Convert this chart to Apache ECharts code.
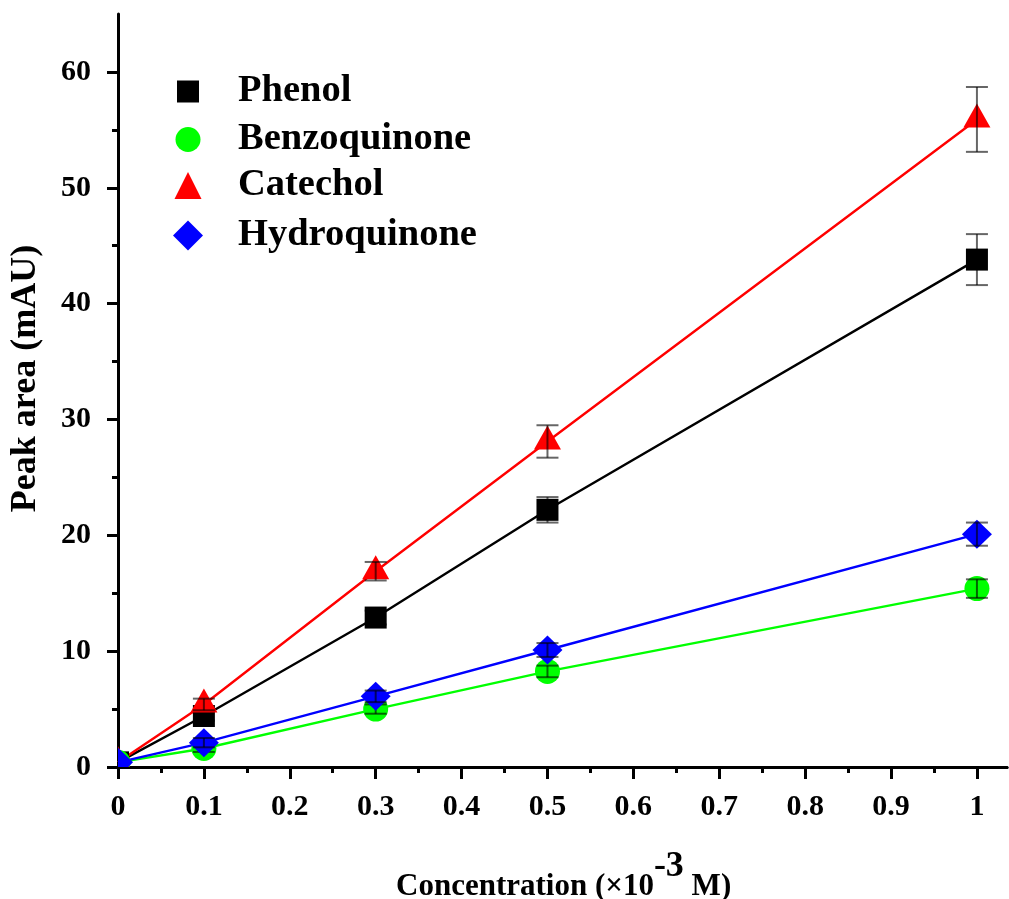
<!DOCTYPE html>
<html>
<head>
<meta charset="utf-8">
<script src="https://cdn.jsdelivr.net/npm/echarts@6/dist/echarts.min.js"></script>
<style>
  html, body { margin: 0; padding: 0; background: #fff; }
  #chart { width: 1009px; height: 899px; }
</style>
</head>
<body>
<div id="chart"></div>
<script>
// Concentration (x10^-3 M)
const concentration = [0, 0.1, 0.3, 0.5, 1.0];

// Peak area (mAU) per compound
const phenol       = [0.4, 4.4, 12.9, 22.2, 43.8];
const benzoquinone = [0.4, 1.6, 5.0, 8.25, 15.4];
const catechol     = [0.4, 5.4, 16.9, 28.1, 55.9];
const hydroquinone = [0.4, 2.1, 6.1, 10.1, 20.1];

// Standard deviations (mAU)
const phenolErr       = [0, 0.4, 0.6, 1.1, 2.2];
const benzoquinoneErr = [0, 0.3, 0.4, 0.5, 0.8];
const catecholErr     = [0, 0.5, 0.8, 1.4, 2.8];
const hydroquinoneErr = [0, 0.4, 0.5, 0.6, 1.0];

// Axis ticks
const xMajorTicks = [0, 0.1, 0.2, 0.3, 0.4, 0.5, 0.6, 0.7, 0.8, 0.9, 1.0];
const xMinorTicks = [0.05, 0.15, 0.25, 0.35, 0.45, 0.55, 0.65, 0.75, 0.85, 0.95];
const yMajorTicks = [0, 10, 20, 30, 40, 50, 60];
const yMinorTicks = [5, 15, 25, 35, 45, 55];

const FONT = '"Liberation Serif", "Times New Roman", serif';
const X_MAX = 1.035;
const Y_MAX = 65;

const compounds = [
  { name: 'Phenol',       values: phenol,       errors: phenolErr,       color: '#000000', shape: 'square',   icon: 'rect',     iconSize: 22 },
  { name: 'Benzoquinone', values: benzoquinone, errors: benzoquinoneErr, color: '#00ff00', shape: 'circle',   icon: 'circle',   iconSize: 25 },
  { name: 'Catechol',     values: catechol,     errors: catecholErr,     color: '#ff0000', shape: 'triangle', icon: 'triangle', iconSize: 27 },
  { name: 'Hydroquinone', values: hydroquinone, errors: hydroquinoneErr, color: '#0000ff', shape: 'diamond',  icon: 'diamond',  iconSize: 30 }
];
const legendCenters = [87, 135, 181, 231];
const legendIconX = 188;   // icon centre
const legendTextX = 238;   // start of legend text

function markerShape(shape, px, py, color) {
  const style = { fill: color, stroke: null };
  switch (shape) {
    case 'square':
      return { type: 'rect', shape: { x: px - 11, y: py - 11, width: 22, height: 22 }, style };
    case 'circle':
      return { type: 'circle', shape: { cx: px, cy: py, r: 12.5 }, style };
    case 'triangle':
      return { type: 'polygon', shape: { points: [[px, py - 16], [px - 13.5, py + 8], [px + 13.5, py + 8]] }, style };
    default:
      return { type: 'polygon', shape: { points: [[px, py - 14.5], [px + 15, py], [px, py + 14.5], [px - 15, py]] }, style };
  }
}

const lineSeries = compounds.map(c => ({
  type: 'line',
  name: c.name + ' line',
  xAxisIndex: 0,
  yAxisIndex: 0,
  data: concentration.map((x, i) => [x, c.values[i]]),
  showSymbol: false,
  symbol: 'none',
  silent: true,
  clip: true,
  lineStyle: { color: c.color, width: 2.4 },
  z: 2
}));

const markerSeries = compounds.map(c => ({
  type: 'custom',
  name: c.name,
  coordinateSystem: 'cartesian2d',
  xAxisIndex: 0,
  yAxisIndex: 0,
  clip: true,
  silent: true,
  itemStyle: { color: c.color },
  encode: { x: 0, y: 1 },
  data: concentration.map((x, i) => [x, c.values[i], c.errors[i]]),
  renderItem: function (params, api) {
    const x = api.value(0), y = api.value(1), e = api.value(2);
    const p = api.coord([x, y]);
    const children = [markerShape(c.shape, p[0], p[1], c.color)];
    if (e > 0) {
      const hi = api.coord([x, y + e]);
      const lo = api.coord([x, y - e]);
      const barStyle = { stroke: 'rgba(0,0,0,0.6)', lineWidth: 2 };
      children.push(
        { type: 'line', shape: { x1: p[0], y1: hi[1], x2: p[0], y2: lo[1] }, style: barStyle },
        { type: 'line', shape: { x1: p[0] - 11, y1: hi[1], x2: p[0] + 11, y2: hi[1] }, style: barStyle },
        { type: 'line', shape: { x1: p[0] - 11, y1: lo[1], x2: p[0] + 11, y2: lo[1] }, style: barStyle }
      );
    }
    return { type: 'group', children };
  },
  z: 3
}));

// One legend block per compound so each icon keeps its own size.
const legends = compounds.map((c, i) => ({
  data: [{ name: c.name, icon: c.icon }],
  orient: 'vertical',
  left: legendIconX - c.iconSize / 2,
  top: legendCenters[i] - 15,
  padding: 0,
  itemWidth: c.iconSize,
  itemHeight: c.iconSize,
  selectedMode: false,
  textStyle: {
    fontFamily: FONT, fontWeight: 'bold', fontSize: 38.5, lineHeight: 30, color: '#000',
    padding: [0, 0, 0, legendTextX - (legendIconX + c.iconSize / 2) - 5]
  }
}));

const tickLabel = { fontFamily: FONT, fontWeight: 'bold', fontSize: 30, color: '#000' };

const option = {
  animation: false,
  backgroundColor: '#fff',
  // x-axis title with a raised exponent
  title: {
    text: 'Concentration (×10{sup|-3} M)',
    left: 396,
    top: 872,
    padding: 0,
    textStyle: {
      fontFamily: FONT, fontWeight: 'bold', fontSize: 31, color: '#000',
      lineHeight: 30, verticalAlign: 'bottom',
      rich: {
        sup: { fontFamily: FONT, fontWeight: 'bold', fontSize: 36, color: '#000', lineHeight: 30, padding: [0, 0, 17, 0], verticalAlign: 'bottom' }
      }
    }
  },
  grid: { left: 118, right: 2, top: 14, bottom: 132, containLabel: false },
  legend: legends,
  xAxis: [
    {
      type: 'value', min: 0, max: X_MAX, position: 'bottom',
      axisLine: { show: true, onZero: false, lineStyle: { color: '#000', width: 3 } },
      axisTick: { show: true, customValues: xMajorTicks, length: 12, lineStyle: { color: '#000', width: 3 } },
      axisLabel: {
        show: true, customValues: xMajorTicks, margin: 25, ...tickLabel,
        formatter: v => String(Number(v.toFixed(1)))
      },
      splitLine: { show: false }
    },
    {
      type: 'value', min: 0, max: X_MAX, position: 'bottom',
      axisLine: { show: false },
      axisTick: { show: true, customValues: xMinorTicks, length: 6, lineStyle: { color: '#000', width: 3 } },
      axisLabel: { show: false },
      splitLine: { show: false }
    },
    {
      type: 'value', min: 0, max: X_MAX, position: 'top',
      axisLine: { show: true, lineStyle: { color: '#000', width: 3 } },
      axisTick: { show: false },
      axisLabel: { show: false },
      splitLine: { show: false }
    }
  ],
  yAxis: [
    {
      type: 'value', min: 0, max: Y_MAX, position: 'left',
      axisLine: { show: true, onZero: false, lineStyle: { color: '#000', width: 3 } },
      axisTick: { show: true, customValues: yMajorTicks, length: 11, lineStyle: { color: '#000', width: 3 } },
      axisLabel: { show: true, customValues: yMajorTicks, margin: 27, ...tickLabel },
      splitLine: { show: false },
      name: 'Peak area (mAU)',
      nameLocation: 'middle',
      nameGap: 74,
      nameTextStyle: { fontFamily: FONT, fontWeight: 'bold', fontSize: 36, color: '#000', padding: [0, 0, 0, 24] }
    },
    {
      type: 'value', min: 0, max: Y_MAX, position: 'left',
      axisLine: { show: false },
      axisTick: { show: true, customValues: yMinorTicks, length: 6, lineStyle: { color: '#000', width: 3 } },
      axisLabel: { show: false },
      splitLine: { show: false }
    }
  ],
  series: [...lineSeries, ...markerSeries]
};

const chart = echarts.init(document.getElementById('chart'), null, { renderer: 'canvas' });
chart.setOption(option);
</script>
</body>
</html>
